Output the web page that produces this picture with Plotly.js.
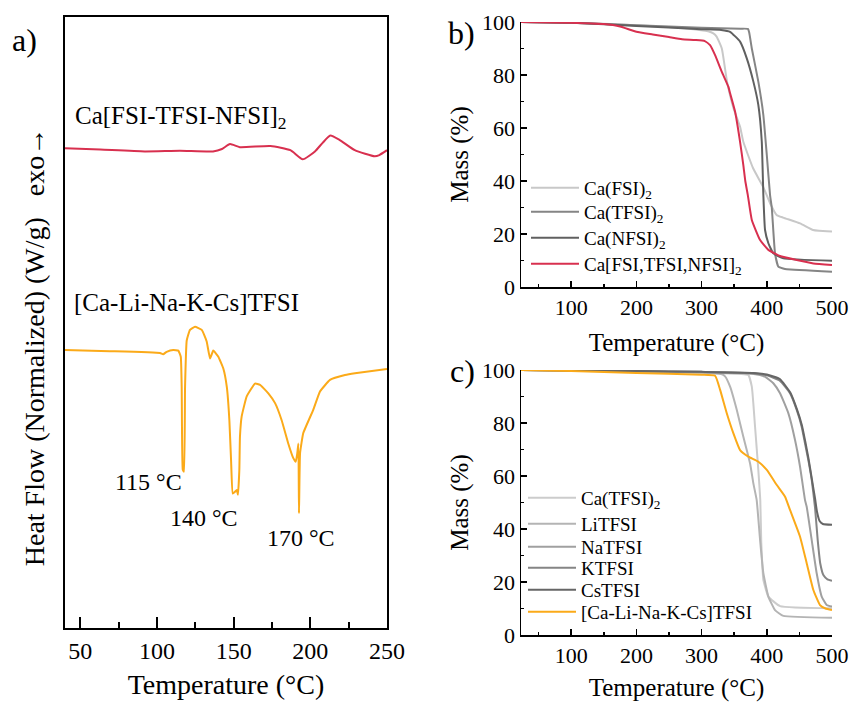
<!DOCTYPE html>
<html>
<head>
<meta charset="utf-8">
<script src="https://cdn.plot.ly/plotly-3.0.1.min.js"></script>
<style>html,body{margin:0;padding:0;background:#fff;}#chart{width:850px;height:702px;}</style>
</head>
<body>
<div id="chart"></div>
<script>
// ---- Panel a: DSC (arbitrary normalized units) ----
const dscRedT = [40, 63, 92, 115, 136.5, 142.4, 147.6, 154, 174, 187, 195, 203, 208, 213, 219, 229, 242, 245, 250];
const dscRedY = [78.5, 78.3, 78.0, 78.1, 78.0, 78.4, 79.2, 78.7, 78.9, 78.2, 76.7, 78.0, 79.4, 80.6, 79.9, 78.2, 77.2, 77.4, 78.2];
const dscOrgT = [40, 69.3, 102, 104, 106.3, 110.6, 113.9, 115.5, 116.1, 116.8, 117.6, 118.3, 119.4, 121.5, 124.8, 129.2, 132.4, 134.6, 136.7, 140, 143.2, 145.5, 147.2, 148.3, 149.4, 150.9, 152, 152.8, 153.7, 154.1, 155.2, 158.5, 163.9, 167.2, 172.6, 177, 181.3, 185.6, 188.9, 190.5, 191.5, 192.2, 192.6, 193.3, 195.4, 201.9, 206.3, 212.8, 222.6, 229.1, 250];
const dscOrgY = [45.5, 45.3, 45.0, 44.8, 45.2, 45.5, 45.4, 44.4, 39.5, 25.9, 25.6, 39.5, 47.1, 48.8, 49.3, 48.8, 46.9, 44.1, 45.4, 44.4, 42.5, 39.5, 34.0, 27.5, 22.0, 22.3, 22.6, 21.8, 25.9, 31.3, 34.6, 37.9, 40.0, 39.8, 38.4, 36.8, 34.0, 30.2, 27.8, 27.2, 28.6, 30.2, 18.8, 28.6, 31.9, 35.7, 38.7, 40.6, 41.4, 41.7, 42.4];
const dscLabels = ["Ca[FSI-TFSI-NFSI]<sub>2</sub>", "[Ca-Li-Na-K-Cs]TFSI"];
const peakLabels = ["115 °C", "140 °C", "170 °C"];

// ---- Panel b: TGA ----
const bFsiT = [23, 100, 200, 280, 310, 318, 323, 331, 339, 349, 359, 364, 379, 395, 405, 415, 425, 451, 471, 480, 500];
const bFsiM = [100, 99.8, 98.8, 97.5, 96.5, 95.7, 94.5, 90, 77.5, 67.4, 60.5, 54.8, 44.8, 37.5, 31.6, 27.2, 26.2, 24.0, 21.5, 21.2, 20.9];
const bTfsiT = [23, 100, 200, 300, 360, 371, 373, 377, 387, 394.7, 400, 405, 407.6, 412.6, 417.7, 425, 430.6, 500];
const bTfsiM = [100, 99.7, 98.8, 97.8, 97.5, 97.4, 96, 90, 77.5, 64.9, 49.8, 34.7, 30, 12.7, 7.7, 7.0, 6.7, 5.8];
const bNfsiT = [23, 100, 200, 300, 330, 343.7, 359, 369.3, 379.4, 387, 392.3, 394.7, 397.3, 402.4, 410, 425.4, 500];
const bNfsiM = [100, 99.7, 98.5, 97.3, 97, 96.3, 92.6, 86.3, 77.5, 68.7, 54.8, 34.7, 21.5, 16.5, 12.7, 10.8, 9.9];
const bMixT = [23, 100, 150, 175, 200, 225, 250, 270, 290, 305, 313, 320.7, 331, 341, 343.7, 351.3, 359, 364, 367, 371, 377, 389.7, 402.4, 420.3, 445.9, 471.4, 500];
const bMixM = [100, 99.7, 99.2, 98.3, 96.3, 95.3, 94.3, 93.5, 93.2, 92.8, 91.3, 87.5, 81.2, 75.6, 73.1, 66.2, 54.8, 46, 40, 34.5, 25.3, 17.7, 14, 11.7, 10.2, 8.9, 8.3];
const bNames = ["Ca(FSI)<sub>2</sub>", "Ca(TFSI)<sub>2</sub>", "Ca(NFSI)<sub>2</sub>", "Ca[FSI,TFSI,NFSI]<sub>2</sub>"];

// ---- Panel c: TGA ----
const cCaT = [23, 100, 200, 300, 360, 371.7, 377, 382, 387, 390, 391.5, 393, 394.7, 402.4, 420.3, 500];
const cCaM = [100, 99.8, 99.4, 99, 98.5, 98.1, 93.7, 78.6, 62.3, 50.9, 35, 27, 20.8, 14.5, 10.9, 10.1];
const cLiT = [23, 100, 200, 300, 330, 336, 343.7, 354, 364, 374.3, 379.4, 384.5, 389.7, 394.7, 402.4, 412.6, 425.4, 500];
const cLiM = [100, 99.8, 99.4, 99, 98.5, 97.6, 93.7, 84.9, 74.8, 64.8, 57.2, 50.9, 35.8, 23.3, 14.5, 9.4, 7.2, 6.5];
const cNaT = [23, 100, 200, 300, 380, 397, 410, 420.3, 433, 443.3, 451, 458.6, 461.2, 468.9, 476.5, 484.2, 491.8, 500];
const cNaM = [100, 99.8, 99.5, 99.2, 98.5, 97.5, 95, 91.2, 83.7, 73.6, 63.5, 50.9, 48.4, 35.8, 23.3, 14.5, 11.3, 10.7];
const cKT = [23, 100, 200, 300, 380, 400, 420, 435.6, 445.9, 453.5, 458.6, 463.7, 468.9, 474, 478, 482, 487, 493, 500];
const cKM = [100, 99.8, 99.6, 99.3, 98.8, 98, 96, 91.2, 84.9, 78.6, 72.3, 66, 58.5, 48, 36, 27, 22.5, 21, 20.5];
const cCsT = [23, 100, 200, 300, 380, 400, 420, 436, 446, 454, 459, 464, 469, 474, 477, 481, 486, 500];
const cCsM = [100, 99.8, 99.6, 99.3, 98.9, 98.3, 96.6, 91.5, 85.3, 79, 73, 66.5, 59, 51.5, 46.5, 43, 41.9, 41.6];
const cMixT = [23, 100, 200, 300, 320.7, 328.4, 338.6, 348.8, 359, 371.7, 387, 400, 415.3, 428, 435.6, 451, 461.2, 471.4, 481.6, 490, 500];
const cMixM = [100, 99.6, 98.9, 98.2, 97.8, 92.5, 83.7, 76.1, 69.8, 67.3, 65.4, 62.3, 56.6, 52.2, 47.2, 37.1, 27.1, 17, 11.3, 10, 9.4];
const cNames = ["Ca(TFSI)<sub>2</sub>", "LiTFSI", "NaTFSI", "KTFSI", "CsTFSI", "[Ca-Li-Na-K-Cs]TFSI"];

const RED = "#d8304f", ORANGE = "#fbaa19";
const FONT = "Liberation Serif, Times New Roman, serif";

function tr(x, y, color, xa, ya, name, legend, smooth) {
  return {x: x, y: y, type: "scatter", mode: "lines", name: name || "",
    xaxis: xa, yaxis: ya, showlegend: !!name, legend: legend,
    line: {color: color, width: 2, shape: "spline", smoothing: smooth}};
}

const data = [
  tr(dscRedT, dscRedY, RED, "x", "y", null, null, 0.5),
  tr(dscOrgT, dscOrgY, ORANGE, "x", "y", null, null, 0.35),
  tr(bFsiT, bFsiM, "#c8c8c8", "x2", "y2", bNames[0], "legend", 0.4),
  tr(bTfsiT, bTfsiM, "#858585", "x2", "y2", bNames[1], "legend2", 0.4),
  tr(bNfsiT, bNfsiM, "#606060", "x2", "y2", bNames[2], "legend3", 0.4),
  tr(bMixT, bMixM, RED, "x2", "y2", bNames[3], "legend4", 0.4),
  tr(cCaT, cCaM, "#cccccc", "x3", "y3", cNames[0], "legend5", 0.4),
  tr(cLiT, cLiM, "#b4b4b4", "x3", "y3", cNames[1], "legend6", 0.4),
  tr(cNaT, cNaM, "#a0a0a0", "x3", "y3", cNames[2], "legend7", 0.4),
  tr(cKT, cKM, "#858585", "x3", "y3", cNames[3], "legend8", 0.4),
  tr(cCsT, cCsM, "#666666", "x3", "y3", cNames[4], "legend9", 0.4),
  tr(cMixT, cMixM, ORANGE, "x3", "y3", cNames[5], "legend10", 0.4)
];

const W = 850, H = 702;
const px = v => v / W, py = v => 1 - v / H;

function tgaX(domain, anchor) {
  return {domain: domain, anchor: anchor, range: [23, 500], tick0: 0, dtick: 100,
    ticks: "inside", ticklen: 6, tickwidth: 1.5, tickcolor: "#000",
    minor: {dtick: 50, ticks: "inside", ticklen: 3, tickwidth: 1.5, tickcolor: "#000"},
    showline: true, linecolor: "#000", linewidth: 1.5, mirror: false, showgrid: false, zeroline: false,
    tickfont: {family: FONT, size: 22, color: "#000"},
    title: {text: "Temperature (°C)", font: {family: FONT, size: 25, color: "#000"}, standoff: 14}};
}
function tgaY(domain, anchor) {
  return {domain: domain, anchor: anchor, range: [0, 100], tick0: 0, dtick: 20,
    ticks: "inside", ticklen: 6, tickwidth: 1.5, tickcolor: "#000",
    minor: {dtick: 10, ticks: "inside", ticklen: 3, tickwidth: 1.5, tickcolor: "#000"},
    showline: true, linecolor: "#000", linewidth: 1.5, mirror: false, showgrid: false, zeroline: false,
    tickfont: {family: FONT, size: 22, color: "#000"},
    title: {text: "Mass (%)", font: {family: FONT, size: 25, color: "#000"}, standoff: 6}};
}

function leg(xPix, yPix) {
  return {x: px(xPix), y: py(yPix), xanchor: "left", yanchor: "middle", bgcolor: "rgba(0,0,0,0)",
    font: {family: FONT, size: 19, color: "#000"}, itemwidth: 48, borderwidth: 0};
}
const bRows = [188, 212, 238, 264];
const cRows = [498, 524, 547, 568, 590, 612];

const layout = {
  width: W, height: H, margin: {l: 0, r: 0, t: 0, b: 0},
  paper_bgcolor: "#fff", plot_bgcolor: "rgba(0,0,0,0)",
  font: {family: FONT, color: "#000"},
  xaxis: {domain: [px(65), px(387)], anchor: "y", range: [40, 250], tick0: 0, dtick: 50,
    ticks: "inside", ticklen: 11, tickwidth: 2, tickcolor: "#000",
    minor: {dtick: 25, ticks: "inside", ticklen: 6, tickwidth: 2, tickcolor: "#000"},
    showline: true, mirror: true, linecolor: "#000", linewidth: 2, showgrid: false, zeroline: false,
    tickfont: {family: FONT, size: 24, color: "#000"},
    title: {text: "Temperature (°C)", font: {family: FONT, size: 28, color: "#000"}, standoff: 12}},
  yaxis: {domain: [py(628), py(17)], anchor: "x", range: [0, 100], showticklabels: false, ticks: "",
    showline: true, mirror: true, linecolor: "#000", linewidth: 2, showgrid: false, zeroline: false,
    title: {text: "Heat Flow (Normalized) (W/g)\u00a0\u00a0\u00a0exo\u2192" + "\u00a0".repeat(7) + "\u200b", font: {family: FONT, size: 28, color: "#000"}, standoff: 10}},
  xaxis2: tgaX([px(521), px(832)], "y2"),
  yaxis2: tgaY([py(287), py(22)], "x2"),
  xaxis3: tgaX([px(521), px(832)], "y3"),
  yaxis3: tgaY([py(635), py(370)], "x3"),
  legend: leg(526, bRows[0]),
  legend2: leg(526, bRows[1]),
  legend3: leg(526, bRows[2]),
  legend4: leg(526, bRows[3]),
  legend5: leg(523, cRows[0]),
  legend6: leg(523, cRows[1]),
  legend7: leg(523, cRows[2]),
  legend8: leg(523, cRows[3]),
  legend9: leg(523, cRows[4]),
  legend10: leg(523, cRows[5]),
  annotations: [
    {xref: "x", yref: "y", x: 45, y: 83.5, xanchor: "left", yanchor: "middle", showarrow: false,
      text: dscLabels[0], font: {family: FONT, size: 25, color: "#000"}},
    {xref: "x", yref: "y", x: 44.6, y: 53.2, xanchor: "left", yanchor: "middle", showarrow: false,
      text: dscLabels[1], font: {family: FONT, size: 25, color: "#000"}},
    {xref: "x", yref: "y", x: 117.3, y: 23.9, xanchor: "right", yanchor: "middle", showarrow: false,
      text: peakLabels[0], font: {family: FONT, size: 24, color: "#000"}},
    {xref: "x", yref: "y", x: 130.7, y: 18.0, xanchor: "center", yanchor: "middle", showarrow: false,
      text: peakLabels[1], font: {family: FONT, size: 24, color: "#000"}},
    {xref: "x", yref: "y", x: 194, y: 14.7, xanchor: "center", yanchor: "middle", showarrow: false,
      text: peakLabels[2], font: {family: FONT, size: 24, color: "#000"}},
    {xref: "paper", yref: "paper", x: px(24), y: py(40), xanchor: "center", yanchor: "middle", showarrow: false,
      text: "a)", font: {family: FONT, size: 32, color: "#000"}},
    {xref: "paper", yref: "paper", x: px(461), y: py(33), xanchor: "center", yanchor: "middle", showarrow: false,
      text: "b)", font: {family: FONT, size: 32, color: "#000"}},
    {xref: "paper", yref: "paper", x: px(462), y: py(371), xanchor: "center", yanchor: "middle", showarrow: false,
      text: "c)", font: {family: FONT, size: 32, color: "#000"}}
  ]
};

Plotly.newPlot("chart", data, layout, {displayModeBar: false, staticPlot: true});
</script>
</body>
</html>
